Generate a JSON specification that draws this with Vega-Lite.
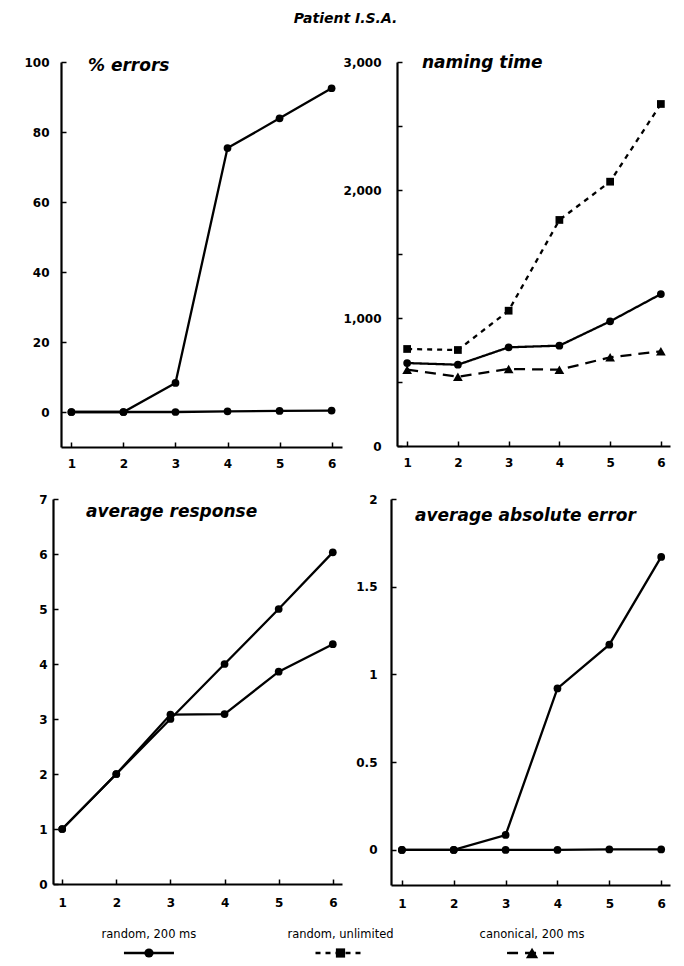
{
  "$schema": "https://vega.github.io/schema/vega-lite/v6.json",
  "padding": {"left": 21, "top": 12, "right": 5, "bottom": 5},
  "title": {"text": "Patient I.S.A.", "fontSize": 14, "anchor": "middle", "frame": "bounds", "baseline": "alphabetic", "offset": 17},
  "datasets": {
    "d": [
      {"panel": "errors", "series": "random, 200 ms", "n": 1, "value": 0},
      {"panel": "errors", "series": "random, 200 ms", "n": 2, "value": 0},
      {"panel": "errors", "series": "random, 200 ms", "n": 3, "value": 8.3},
      {"panel": "errors", "series": "random, 200 ms", "n": 4, "value": 75.4},
      {"panel": "errors", "series": "random, 200 ms", "n": 5, "value": 83.9},
      {"panel": "errors", "series": "random, 200 ms", "n": 6, "value": 92.5},
      {"panel": "errors", "series": "canonical, 200 ms", "n": 1, "value": 0},
      {"panel": "errors", "series": "canonical, 200 ms", "n": 2, "value": 0},
      {"panel": "errors", "series": "canonical, 200 ms", "n": 3, "value": 0},
      {"panel": "errors", "series": "canonical, 200 ms", "n": 4, "value": 0.2},
      {"panel": "errors", "series": "canonical, 200 ms", "n": 5, "value": 0.3},
      {"panel": "errors", "series": "canonical, 200 ms", "n": 6, "value": 0.4},
      {"panel": "naming", "series": "random, 200 ms", "n": 1, "value": 648},
      {"panel": "naming", "series": "random, 200 ms", "n": 2, "value": 635},
      {"panel": "naming", "series": "random, 200 ms", "n": 3, "value": 771},
      {"panel": "naming", "series": "random, 200 ms", "n": 4, "value": 784},
      {"panel": "naming", "series": "random, 200 ms", "n": 5, "value": 974},
      {"panel": "naming", "series": "random, 200 ms", "n": 6, "value": 1187},
      {"panel": "naming", "series": "random, unlimited", "n": 1, "value": 758},
      {"panel": "naming", "series": "random, unlimited", "n": 2, "value": 750},
      {"panel": "naming", "series": "random, unlimited", "n": 3, "value": 1057},
      {"panel": "naming", "series": "random, unlimited", "n": 4, "value": 1766},
      {"panel": "naming", "series": "random, unlimited", "n": 5, "value": 2065},
      {"panel": "naming", "series": "random, unlimited", "n": 6, "value": 2672},
      {"panel": "naming", "series": "canonical, 200 ms", "n": 1, "value": 596},
      {"panel": "naming", "series": "canonical, 200 ms", "n": 2, "value": 541},
      {"panel": "naming", "series": "canonical, 200 ms", "n": 3, "value": 602},
      {"panel": "naming", "series": "canonical, 200 ms", "n": 4, "value": 596},
      {"panel": "naming", "series": "canonical, 200 ms", "n": 5, "value": 693},
      {"panel": "naming", "series": "canonical, 200 ms", "n": 6, "value": 740},
      {"panel": "response", "series": "canonical, 200 ms", "n": 1, "value": 1},
      {"panel": "response", "series": "canonical, 200 ms", "n": 2, "value": 2},
      {"panel": "response", "series": "canonical, 200 ms", "n": 3, "value": 3},
      {"panel": "response", "series": "canonical, 200 ms", "n": 4, "value": 4},
      {"panel": "response", "series": "canonical, 200 ms", "n": 5, "value": 5},
      {"panel": "response", "series": "canonical, 200 ms", "n": 6, "value": 6.03},
      {"panel": "response", "series": "random, 200 ms", "n": 1, "value": 1},
      {"panel": "response", "series": "random, 200 ms", "n": 2, "value": 2},
      {"panel": "response", "series": "random, 200 ms", "n": 3, "value": 3.08},
      {"panel": "response", "series": "random, 200 ms", "n": 4, "value": 3.09},
      {"panel": "response", "series": "random, 200 ms", "n": 5, "value": 3.86},
      {"panel": "response", "series": "random, 200 ms", "n": 6, "value": 4.36},
      {"panel": "abserror", "series": "random, 200 ms", "n": 1, "value": 0},
      {"panel": "abserror", "series": "random, 200 ms", "n": 2, "value": 0},
      {"panel": "abserror", "series": "random, 200 ms", "n": 3, "value": 0.085},
      {"panel": "abserror", "series": "random, 200 ms", "n": 4, "value": 0.92},
      {"panel": "abserror", "series": "random, 200 ms", "n": 5, "value": 1.17},
      {"panel": "abserror", "series": "random, 200 ms", "n": 6, "value": 1.67},
      {"panel": "abserror", "series": "canonical, 200 ms", "n": 1, "value": 0},
      {"panel": "abserror", "series": "canonical, 200 ms", "n": 2, "value": 0},
      {"panel": "abserror", "series": "canonical, 200 ms", "n": 3, "value": 0},
      {"panel": "abserror", "series": "canonical, 200 ms", "n": 4, "value": 0},
      {"panel": "abserror", "series": "canonical, 200 ms", "n": 5, "value": 0.003},
      {"panel": "abserror", "series": "canonical, 200 ms", "n": 6, "value": 0.003}
    ],
    "legend": [
      {"series": "random, 200 ms"},
      {"series": "random, unlimited"},
      {"series": "canonical, 200 ms"}
    ],
    "empty": []
  },
  "vconcat": [
    {
      "vconcat": [
        {
          "hconcat": [
            {"width": 1, "height": 1, "data": {"name": "empty"}, "mark": {"type": "point", "opacity": 0}},
            {
              "width": 281, "height": 385,
              "data": {"name": "d"},
              "title": {"text": "% errors", "dx": 27, "offset": -19},
              "transform": [{"filter": "datum.panel === 'errors'"}],
              "encoding": {
                "x": {"field": "n", "type": "quantitative", "scale": {"domain": [0.8, 6.2], "nice": false, "zero": false}, "axis": {"values": [1, 2, 3, 4, 5, 6], "title": null, "labelPadding": 16}},
                "y": {"field": "value", "type": "quantitative", "scale": {"domain": [-10, 100], "nice": false, "zero": false}, "axis": {"values": [0, 20, 40, 60, 80, 100], "title": null, "labelPadding": 17, "minExtent": 39}},
                "detail": {"field": "series"}
              },
              "layer": [
                {"mark": {"type": "line", "color": "black", "strokeWidth": 2.3}},
                {"mark": {"type": "point", "shape": "circle", "filled": true, "size": 60, "color": "black", "opacity": 1}}
              ]
            },
            {
              "width": 273, "height": 384,
              "data": {"name": "d"},
              "title": {"text": "naming time", "dx": 25, "offset": -16},
              "transform": [{"filter": "datum.panel === 'naming'"}],
              "encoding": {
                "x": {"field": "n", "type": "quantitative", "scale": {"domain": [0.8, 6.18], "nice": false, "zero": false}, "axis": {"values": [1, 2, 3, 4, 5, 6], "title": null, "labelPadding": 16}},
                "y": {"field": "value", "type": "quantitative", "scale": {"domain": [0, 3000], "nice": false, "zero": false}, "axis": {"values": [0, 500, 1000, 1500, 2000, 2500, 3000], "labelExpr": "datum.value % 1000 === 0 ? format(datum.value, ',') : ''", "title": null, "labelPadding": 21, "minExtent": 55}}
              },
              "layer": [
                {"mark": {"type": "line", "color": "black", "strokeWidth": 2.3},
                 "encoding": {"strokeDash": {"field": "series", "type": "nominal", "legend": null, "scale": {"domain": ["random, 200 ms", "random, unlimited", "canonical, 200 ms"], "range": [[1, 0], [5, 5], [11, 7]]}}}},
                {"transform": [{"filter": "datum.series !== 'canonical, 200 ms'"}],
                 "mark": {"type": "point", "filled": true, "size": 60, "color": "black", "opacity": 1},
                 "encoding": {"shape": {"field": "series", "type": "nominal", "legend": null, "scale": {"domain": ["random, 200 ms", "random, unlimited", "canonical, 200 ms"], "range": ["circle", "square", "triangle-up"]}}}},
                {"transform": [{"filter": "datum.series === 'canonical, 200 ms'"}],
                 "mark": {"type": "point", "shape": "triangle-up", "filled": true, "size": 95, "color": "black", "opacity": 1}}
              ]
            }
          ],
          "spacing": 0,
          "resolve": {"scale": {"x": "independent", "y": "independent"}}
        },
        {
          "hconcat": [
            {"width": 1, "height": 1, "data": {"name": "empty"}, "mark": {"type": "point", "opacity": 0}},
            {
              "width": 289, "height": 385,
              "data": {"name": "d"},
              "title": {"text": "average response", "dx": 33, "offset": -28},
              "transform": [{"filter": "datum.panel === 'response'"}],
              "encoding": {
                "x": {"field": "n", "type": "quantitative", "scale": {"domain": [0.83, 6.17], "nice": false, "zero": false}, "axis": {"values": [1, 2, 3, 4, 5, 6], "title": null, "labelPadding": 18}},
                "y": {"field": "value", "type": "quantitative", "scale": {"domain": [0, 7], "nice": false, "zero": false}, "axis": {"values": [0, 1, 2, 3, 4, 5, 6, 7], "title": null, "labelPadding": 11, "minExtent": 31}},
                "detail": {"field": "series"}
              },
              "layer": [
                {"mark": {"type": "line", "color": "black", "strokeWidth": 2.3}},
                {"mark": {"type": "point", "shape": "circle", "filled": true, "size": 60, "color": "black", "opacity": 1}}
              ]
            },
            {
              "width": 279, "height": 386,
              "data": {"name": "d"},
              "title": {"text": "average absolute error", "dx": 24, "offset": -32},
              "transform": [{"filter": "datum.panel === 'abserror'"}],
              "encoding": {
                "x": {"field": "n", "type": "quantitative", "scale": {"domain": [0.79, 6.17], "nice": false, "zero": false}, "axis": {"values": [1, 2, 3, 4, 5, 6], "title": null, "labelPadding": 18}},
                "y": {"field": "value", "type": "quantitative", "scale": {"domain": [-0.2, 2], "nice": false, "zero": false}, "axis": {"values": [0, 0.5, 1, 1.5, 2], "format": "~g", "title": null, "labelPadding": 19, "minExtent": 49}},
                "detail": {"field": "series"}
              },
              "layer": [
                {"mark": {"type": "line", "color": "black", "strokeWidth": 2.3}},
                {"mark": {"type": "point", "shape": "circle", "filled": true, "size": 60, "color": "black", "opacity": 1}}
              ]
            }
          ],
          "spacing": 0,
          "resolve": {"scale": {"x": "independent", "y": "independent"}}
        }
      ],
      "spacing": 24
    },
    {
      "width": 639, "height": 36,
      "data": {"name": "legend"},
      "encoding": {
        "x": {"field": "series", "type": "nominal", "scale": {"type": "point", "domain": ["random, 200 ms", "random, unlimited", "canonical, 200 ms"], "padding": 0.668}, "axis": null}
      },
      "layer": [
        {"mark": {"type": "rule", "color": "black", "strokeWidth": 2.3, "xOffset": -25, "x2Offset": 25},
         "encoding": {"x2": {"field": "series"}, "strokeDash": {"field": "series", "type": "nominal", "legend": null, "scale": {"domain": ["random, 200 ms", "random, unlimited", "canonical, 200 ms"], "range": [[1, 0], [5, 5], [11, 7]]}}}},
        {"transform": [{"filter": "datum.series !== 'canonical, 200 ms'"}],
         "mark": {"type": "point", "filled": true, "size": 85, "color": "black", "opacity": 1},
         "encoding": {"shape": {"field": "series", "type": "nominal", "legend": null, "scale": {"domain": ["random, 200 ms", "random, unlimited", "canonical, 200 ms"], "range": ["circle", "square", "triangle-up"]}}}},
        {"transform": [{"filter": "datum.series === 'canonical, 200 ms'"}],
         "mark": {"type": "point", "shape": "triangle-up", "filled": true, "size": 150, "color": "black", "opacity": 1}},
        {"mark": {"type": "text", "dy": -18, "font": "DejaVu Sans", "fontSize": 11.5, "color": "black"},
         "encoding": {"text": {"field": "series"}}}
      ]
    }
  ],
  "spacing": 20,
  "config": {
    "view": {"stroke": null},
    "title": {"font": "DejaVu Sans", "fontStyle": "italic", "fontWeight": "bold", "fontSize": 17, "color": "black", "anchor": "start", "frame": "group", "baseline": "alphabetic"},
    "axis": {"grid": false, "domainColor": "black", "domainWidth": 2.2, "tickColor": "black", "tickSize": -5, "tickWidth": 1.5, "labelFont": "DejaVu Sans", "labelFontWeight": "bold", "labelFontSize": 12, "labelColor": "black", "labelFlush": false, "labelOverlap": false}
  }
}
